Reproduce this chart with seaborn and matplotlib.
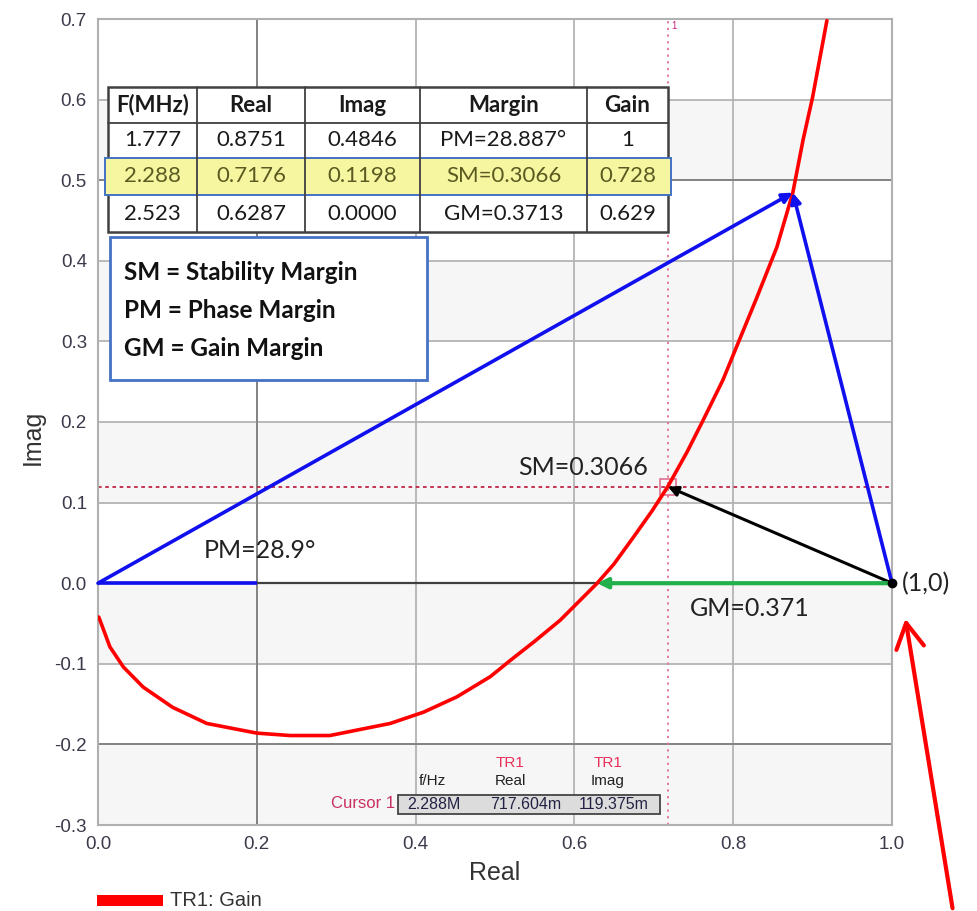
import numpy as np
import pandas as pd
import seaborn as sns
import matplotlib
matplotlib.use("Agg")
import matplotlib.pyplot as plt
from matplotlib.patches import Rectangle, FancyArrowPatch
from matplotlib.ticker import MultipleLocator, AutoMinorLocator

# Loop gain trace TR1 (real / imaginary parts)
gain_real = [0.001, 0.015, 0.032, 0.057, 0.094, 0.137, 0.200, 0.242, 0.292, 0.368,
             0.410, 0.452, 0.494, 0.519, 0.550, 0.582, 0.6287, 0.650, 0.675, 0.698,
             0.7176, 0.742, 0.762, 0.787, 0.830, 0.855, 0.8751, 0.888, 0.900, 0.918]
gain_imag = [-0.042, -0.079, -0.104, -0.129, -0.154, -0.174, -0.186, -0.189, -0.189, -0.174,
             -0.160, -0.141, -0.116, -0.096, -0.072, -0.046, 0.000, 0.024, 0.058, 0.090,
             0.1198, 0.163, 0.202, 0.252, 0.355, 0.417, 0.4846, 0.550, 0.603, 0.698]

# Margin points
critical = (1.0, 0.0)
pm_point = (0.8751, 0.4846)
sm_point = (0.7176, 0.1198)
gm_point = (0.6287, 0.0)

# Summary table
table_header = ["F(MHz)", "Real", "Imag", "Margin", "Gain"]
table_rows = [
    ["1.777", "0.8751", "0.4846", "PM=28.887°", "1"],
    ["2.288", "0.7176", "0.1198", "SM=0.3066", "0.728"],
    ["2.523", "0.6287", "0.0000", "GM=0.3713", "0.629"],
]
legend_lines = ["SM = Stability Margin", "PM = Phase Margin", "GM = Gain Margin"]
cursor_values = ["2.288M", "717.604m", "119.375m"]

W, H = 977, 911

def fx(p):
    return p / W

def fy(p):
    return 1 - p / H

sns.set_style("white")
plt.rcParams["font.family"] = ["Liberation Sans", "DejaVu Sans"]
LABEL_FONT = ["Lato", "DejaVu Sans"]

fig = plt.figure(figsize=(W / 100, H / 100), dpi=100)
ax = fig.add_axes([fx(98), fy(825), fx(892) - fx(98), fy(19) - fy(825)])

ax.set_xlim(0, 1.0)
ax.set_ylim(-0.3, 0.7)

# alternating shaded bands
for lo in [0.5, 0.3, 0.1, -0.1, -0.3]:
    ax.axhspan(lo, lo + 0.1, color="#f6f6f6", zorder=0, lw=0)

ax.xaxis.set_major_locator(MultipleLocator(0.2))
ax.yaxis.set_major_locator(MultipleLocator(0.1))
ax.xaxis.set_minor_locator(AutoMinorLocator(4))
ax.yaxis.set_minor_locator(AutoMinorLocator(5))
ax.grid(True, which="major", color="#b4b4b4", lw=1.3, zorder=0.5)
for xv in [0.2]:
    ax.axvline(xv, color="#808080", lw=1.3, zorder=0.6)
for yv in [0.5, -0.2]:
    ax.axhline(yv, color="#808080", lw=1.3, zorder=0.6)
ax.axhline(0.0, color="#404040", lw=1.6, zorder=0.7)
ax.set_axisbelow(True)

for s in ax.spines.values():
    s.set_color("#b0b0b0")
    s.set_linewidth(1.5)

ax.tick_params(which="major", direction="out", length=5, width=1.2, color="#909090",
               labelsize=13.5, labelcolor="#3a3a4a", pad=3)
ax.tick_params(which="minor", direction="in", length=5, width=1.0, color="#909090")

# cursor cross-hair
ax.axvline(sm_point[0], color="#e07090", ls=(0, (1.2, 2.5)), lw=1.3, zorder=1)
ax.axhline(sm_point[1], color="#c02545", ls=(0, (2, 2)), lw=1.3, zorder=1)
ax.plot(*sm_point, marker="s", ms=11, mfc="none", mec="#e07090", mew=1.2, zorder=3)
ax.text(sm_point[0] + 0.004, 0.697, "1", color="#c8207a", fontsize=7, va="top", ha="left")

# gain trace
df = pd.DataFrame({"Real": gain_real, "Imag": gain_imag})
sns.lineplot(data=df, x="Real", y="Imag", sort=False, estimator=None, color="red",
             lw=2.6, ax=ax, zorder=4)
ax.set_xticks(np.arange(0, 1.01, 0.2))
ax.set_xticklabels([f"{v:.1f}" for v in ax.get_xticks()])
ax.set_yticks(np.arange(-0.3, 0.71, 0.1))
ax.set_yticklabels([f"{v:.1f}" if abs(v) > 1e-9 else "0.0" for v in ax.get_yticks()])
ax.set_xlim(0, 1.0)
ax.set_ylim(-0.3, 0.7)
ax.set_xlabel("Real", fontsize=18, color="#333333", labelpad=6)
ax.set_ylabel("Imag", fontsize=18, color="#333333")
ax.yaxis.set_label_coords(-0.067, 0.481)

# margin vectors
blue = "#1010ee"
ax.plot([0, 0.2], [0, 0], color=blue, lw=2.6, zorder=5, solid_capstyle="butt")
arrow_kw = dict(arrowstyle="-|>,head_length=0.6,head_width=0.3", shrinkA=0, shrinkB=0)
ax.annotate("", xy=pm_point, xytext=(0, 0),
            arrowprops=dict(color=blue, lw=2.6, **arrow_kw), zorder=5)
ax.annotate("", xy=pm_point, xytext=critical,
            arrowprops=dict(color=blue, lw=2.6, **arrow_kw), zorder=5)
ax.annotate("", xy=sm_point, xytext=critical,
            arrowprops=dict(color="black", lw=2.2, **arrow_kw), zorder=5)
ax.annotate("", xy=gm_point, xytext=critical,
            arrowprops=dict(color="#22b04b", lw=3.0, **arrow_kw), zorder=5)
ax.plot(*critical, "o", color="black", ms=6, zorder=6, clip_on=False)

ax.text(0.611, 0.143, "SM=0.3066", fontsize=18, family=LABEL_FONT, color="#222222",
        ha="center", va="center", zorder=6)
ax.text(0.204, 0.041, "PM=28.9°", fontsize=18, family=LABEL_FONT, color="#222222",
        ha="center", va="center", zorder=6)
ax.text(0.821, -0.031, "GM=0.371", fontsize=18, family=LABEL_FONT, color="#222222",
        ha="center", va="center", zorder=6)
ax.text(1.013, 0.0, "(1,0)", fontsize=18, family=LABEL_FONT, color="#222222",
        ha="left", va="center", zorder=6, clip_on=False)

# summary table
col_edges = [108, 197, 305, 420, 587, 668]
row_edges = [87, 123, 158, 195, 232]
tr = fig.transFigure
fig.add_artist(Rectangle((fx(108), fy(232)), fx(668) - fx(108), fy(87) - fy(232),
                         transform=tr, facecolor="white", edgecolor="#404040", lw=1.8, zorder=10))
fig.add_artist(Rectangle((fx(105), fy(195)), fx(671) - fx(105), fy(158) - fy(195),
                         transform=tr, facecolor="#f6f6a0", edgecolor="#4472c4", lw=1.4, zorder=11))
for c in col_edges[1:-1]:
    fig.add_artist(plt.Line2D([fx(c), fx(c)], [fy(232), fy(87)], transform=tr,
                              color="#404040", lw=1.3, zorder=12))
fig.add_artist(plt.Line2D([fx(108), fx(668)], [fy(123), fy(123)], transform=tr,
                          color="#404040", lw=1.3, zorder=12))
all_rows = [table_header] + table_rows
for i, row in enumerate(all_rows):
    yc = (row_edges[i] + row_edges[i + 1]) / 2
    for j, txt in enumerate(row):
        xc = (col_edges[j] + col_edges[j + 1]) / 2
        fig.text(fx(xc), fy(yc), txt, ha="center", va="center", fontsize=16,
                 family=LABEL_FONT, fontweight="bold" if i == 0 else "normal",
                 color="#5a5a22" if i == 2 else "#1a1a1a", zorder=13)

# abbreviation box
fig.add_artist(Rectangle((fx(110), fy(380)), fx(427) - fx(110), fy(237) - fy(380),
                         transform=tr, facecolor="white", edgecolor="#4472c4", lw=2.0, zorder=10))
for k, line in enumerate(legend_lines):
    fig.text(fx(124), fy(272 + 38.5 * k), line, ha="left", va="center", fontsize=17.5,
             family=LABEL_FONT, fontweight="bold", color="#111111", zorder=13)

# cursor readout
fig.text(fx(510), fy(763), "TR1", ha="center", va="center", fontsize=11, color="#e8305a", zorder=13)
fig.text(fx(608), fy(763), "TR1", ha="center", va="center", fontsize=11, color="#e8305a", zorder=13)
fig.text(fx(432), fy(781), "f/Hz", ha="center", va="center", fontsize=11, color="#222222", zorder=13)
fig.text(fx(510), fy(781), "Real", ha="center", va="center", fontsize=11, color="#222222", zorder=13)
fig.text(fx(608), fy(781), "Imag", ha="center", va="center", fontsize=11, color="#222222", zorder=13)
fig.text(fx(395), fy(804), "Cursor 1", ha="right", va="center", fontsize=12, color="#c83060", zorder=13)
fig.add_artist(Rectangle((fx(398), fy(814)), fx(660) - fx(398), fy(795) - fy(814),
                         transform=tr, facecolor="#dcdcdc", edgecolor="#444444", lw=1.3, zorder=12))
for xc, v in zip([434, 526, 614], cursor_values):
    fig.text(fx(xc), fy(804.5), v, ha="center", va="center", fontsize=11.5,
             color="#222244", zorder=13)

# trace legend
fig.add_artist(Rectangle((fx(97), fy(906)), fx(163) - fx(97), fy(895) - fy(906),
                         transform=tr, facecolor="red", edgecolor="none", zorder=10))
fig.text(fx(170), fy(900), "TR1: Gain", ha="left", va="center", fontsize=14.5,
         color="#333333", zorder=13)

# pointer to the critical point
fig.add_artist(FancyArrowPatch(posA=(fx(953), fy(911)), posB=(fx(905), fy(616)),
                               transform=tr, arrowstyle="->,head_length=0.9,head_width=0.5",
                               color="red", lw=3, mutation_scale=20, zorder=20))

fig.savefig("out.png", dpi=100)
